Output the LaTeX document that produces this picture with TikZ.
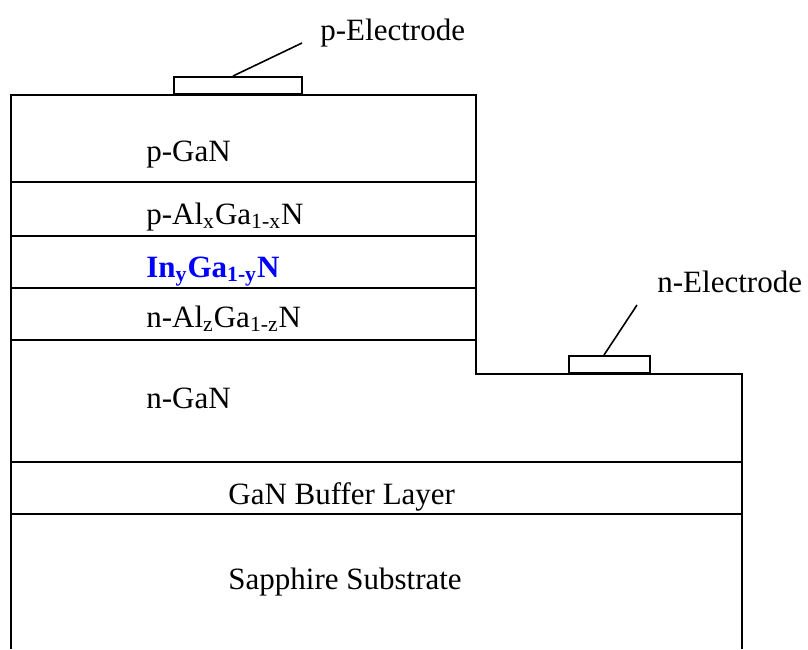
\documentclass[tikz,border=0pt]{standalone}
\usepackage{fontspec}
\setmainfont{Liberation Serif}
\usepackage{tikz}
\usetikzlibrary{positioning, calc}
\newcommand{\sub}[1]{\textsubscript{#1}}

\begin{document}
\begin{tikzpicture}[x=0.5pt, y=-0.5pt,
  lyr/.style={line width=1pt},
  elec/.style={draw, line width=1pt, minimum height=8.5pt, inner sep=0pt, anchor=south west},
  txt/.style={font=\fontsize{15.5}{18}\selectfont, anchor=base west, inner sep=0pt},
  lead/.style={line width=0.8pt}]
  \useasboundingbox (0,0) rectangle (808,649);
  % outline of the mesa
  \draw[lyr] (11,649) -- (11,95) -- (476,95) -- (476,374) -- (742,374) -- (742,649);
  \foreach \yy in {182,236,288,340}
    \draw[lyr] (11,\yy) -- (476,\yy);
  \foreach \yy in {462,514}
    \draw[lyr] (11,\yy) -- (742,\yy);
  % layers
  \node[txt] (pgan) at (146,161) {p-GaN};
  \node[txt] (palgan) at (146,224) {p-Al\sub{x}Ga\sub{1-x}N};
  \node[txt, text=blue, font=\fontsize{15.5}{18}\selectfont\bfseries] (ingan) at (146,277) {In\sub{y}Ga\sub{1-y}N};
  \node[txt] (nalgan) at (146,327) {n-Al\sub{z}Ga\sub{1-z}N};
  \node[txt] (ngan) at (146,408) {n-GaN};
  \node[txt] (buf) at (228,504) {GaN Buffer Layer};
  \node[txt] (sub) at (228,589) {Sapphire Substrate};
  % electrodes
  \node[elec, minimum width=64pt] (pel) at (173,95) {};
  \node[elec, minimum width=40.5pt] (nel) at (568,374) {};
  \node[txt] (plbl) at (320,40) {p-Electrode};
  \node[txt] (nlbl) at (657,292) {n-Electrode};
  \coordinate (pk) at (302,43);
  \coordinate (nk) at (637,305);
  \draw[lead] ([xshift=-2.5pt]pel.north) -- (pk);
  \draw[lead] ([xshift=-2.75pt]nel.north) -- (nk);
\end{tikzpicture}
\end{document}
